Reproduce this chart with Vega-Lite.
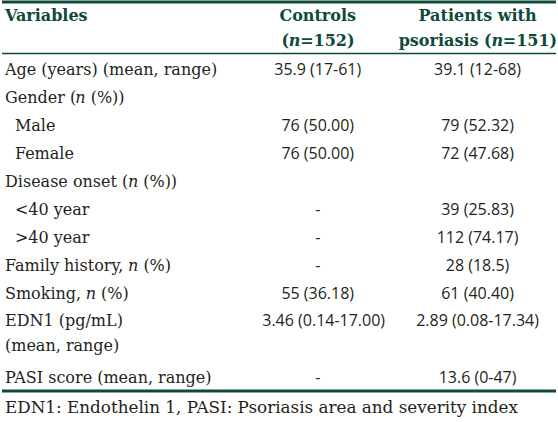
{
  "$schema": "https://vega.github.io/schema/vega-lite/v6.json",
  "width": 558,
  "height": 422,
  "autosize": {"type": "fit", "contains": "padding"},
  "padding": 0,
  "background": "white",
  "config": {"view": {"stroke": null}},
  "encoding": {
    "x": {"field": "x", "type": "quantitative", "scale": {"domain": [0, 558], "nice": false, "zero": false}, "axis": null},
    "y": {"field": "y", "type": "quantitative", "scale": {"domain": [0, 422], "reverse": true, "nice": false, "zero": false}, "axis": null}
  },
  "datasets": {
    "headerLeft": [
      {"t": "Variables", "x": 3, "y": 15},
      {"t": "(", "x": 281.6, "y": 40},
      {"t": "=152)", "x": 300.3, "y": 40},
      {"t": "psoriasis (", "x": 399.5, "y": 40},
      {"t": "=151)", "x": 504.4, "y": 40}
    ],
    "headerItalic": [
      {"t": "n", "x": 288.9, "y": 40},
      {"t": "n", "x": 493.0, "y": 40}
    ],
    "headerCenter": [
      {"t": "Controls", "x": 318, "y": 15},
      {"t": "Patients with", "x": 479, "y": 15}
    ],
    "labels": [
      {"t": "Age (years) (mean, range)", "x": 3, "y": 69},
      {"t": "Gender (", "x": 3, "y": 97},
      {"t": "(%))", "x": 89.3, "y": 97},
      {"t": "Male", "x": 13, "y": 125},
      {"t": "Female", "x": 13, "y": 153},
      {"t": "Disease onset (", "x": 3, "y": 181},
      {"t": "(%))", "x": 142.2, "y": 181},
      {"t": "<40 year", "x": 13, "y": 209},
      {"t": ">40 year", "x": 13, "y": 238},
      {"t": "Family history,", "x": 3, "y": 266},
      {"t": "(%)", "x": 142.4, "y": 266},
      {"t": "Smoking,", "x": 3, "y": 294},
      {"t": "(%)", "x": 99.7, "y": 294},
      {"t": "EDN1 (pg/mL)", "x": 3, "y": 321},
      {"t": "(mean, range)", "x": 3, "y": 346},
      {"t": "PASI score (mean, range)", "x": 3, "y": 378}
    ],
    "labelsItalic": [
      {"t": "n", "x": 73.9, "y": 97},
      {"t": "n", "x": 126.8, "y": 181},
      {"t": "n", "x": 127, "y": 266},
      {"t": "n", "x": 84.3, "y": 294}
    ],
    "values": [
      {"t": "35.9 (17-61)", "x": 318, "y": 69},
      {"t": "39.1 (12-68)", "x": 479, "y": 69},
      {"t": "76 (50.00)", "x": 318, "y": 125},
      {"t": "79 (52.32)", "x": 479, "y": 125},
      {"t": "76 (50.00)", "x": 318, "y": 153},
      {"t": "72 (47.68)", "x": 479, "y": 153},
      {"t": "-", "x": 318, "y": 209},
      {"t": "39 (25.83)", "x": 479, "y": 209},
      {"t": "-", "x": 318, "y": 238},
      {"t": "112 (74.17)", "x": 479, "y": 238},
      {"t": "-", "x": 318, "y": 266},
      {"t": "28 (18.5)", "x": 479, "y": 266},
      {"t": "55 (36.18)", "x": 318, "y": 294},
      {"t": "61 (40.40)", "x": 479, "y": 294},
      {"t": "3.46 (0.14-17.00)", "x": 324, "y": 321},
      {"t": "2.89 (0.08-17.34)", "x": 479, "y": 321},
      {"t": "-", "x": 318, "y": 378},
      {"t": "13.6 (0-47)", "x": 479, "y": 378}
    ],
    "footer": [
      {"t": "EDN1: Endothelin 1, PASI: Psoriasis area and severity index", "x": 3, "y": 408}
    ],
    "thickRules": [{"y": 1}, {"y": 391}],
    "thinRules": [{"y": 52.5}]
  },
  "layer": [
    {
      "data": {"name": "thickRules"},
      "mark": {"type": "rule", "color": "#0d4a3a", "strokeWidth": 3},
      "encoding": {"x": null}
    },
    {
      "data": {"name": "thinRules"},
      "mark": {"type": "rule", "color": "#0d4a3a", "strokeWidth": 1.5},
      "encoding": {"x": null}
    },
    {
      "data": {"name": "headerLeft"},
      "mark": {"type": "text", "font": "DejaVu Serif", "fontSize": 16, "fontWeight": "bold", "color": "#0d4a3a", "baseline": "middle", "align": "left"},
      "encoding": {"text": {"field": "t"}}
    },
    {
      "data": {"name": "headerItalic"},
      "mark": {"type": "text", "font": "DejaVu Serif", "fontSize": 16, "fontWeight": "bold", "fontStyle": "italic", "color": "#0d4a3a", "baseline": "middle", "align": "left"},
      "encoding": {"text": {"field": "t"}}
    },
    {
      "data": {"name": "headerCenter"},
      "mark": {"type": "text", "font": "DejaVu Serif", "fontSize": 16, "fontWeight": "bold", "color": "#0d4a3a", "baseline": "middle", "align": "center"},
      "encoding": {"text": {"field": "t"}}
    },
    {
      "data": {"name": "labels"},
      "mark": {"type": "text", "font": "DejaVu Serif", "fontSize": 16, "color": "#231f20", "baseline": "middle", "align": "left"},
      "encoding": {"text": {"field": "t"}}
    },
    {
      "data": {"name": "labelsItalic"},
      "mark": {"type": "text", "font": "DejaVu Serif", "fontSize": 16, "fontStyle": "italic", "color": "#231f20", "baseline": "middle", "align": "left"},
      "encoding": {"text": {"field": "t"}}
    },
    {
      "data": {"name": "values"},
      "mark": {"type": "text", "font": "Open Sans", "fontSize": 16, "color": "#231f20", "baseline": "middle", "align": "center"},
      "encoding": {"text": {"field": "t"}}
    },
    {
      "data": {"name": "footer"},
      "mark": {"type": "text", "font": "DejaVu Serif", "fontSize": 16.8, "color": "#231f20", "baseline": "middle", "align": "left"},
      "encoding": {"text": {"field": "t"}}
    }
  ]
}
